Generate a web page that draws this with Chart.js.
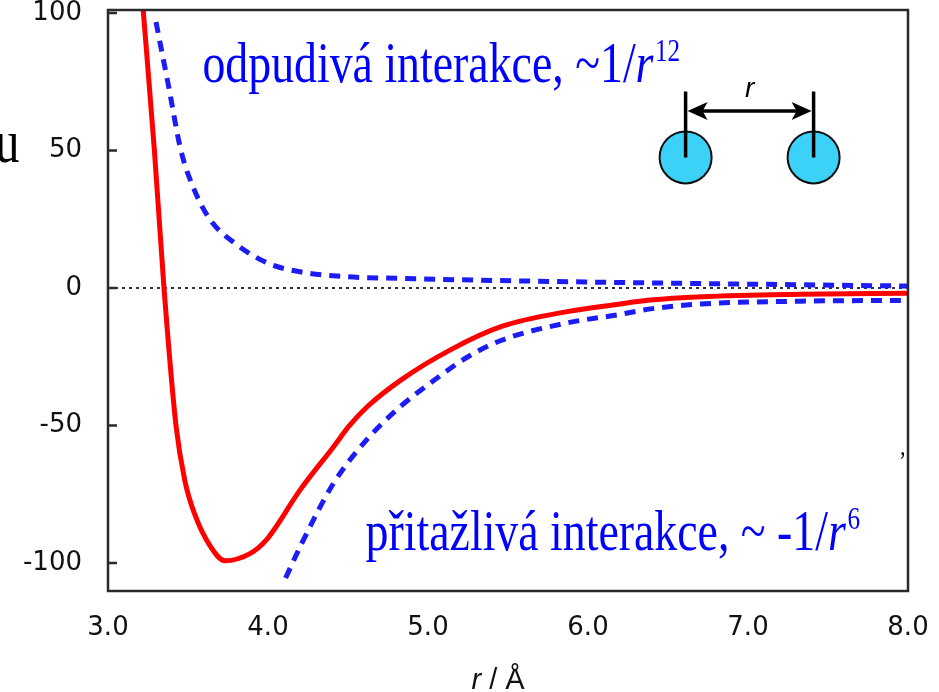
<!DOCTYPE html>
<html lang="cs">
<head>
<meta charset="UTF-8">
<title>Lennard-Jonesův potenciál</title>
<script src="https://cdn.jsdelivr.net/npm/chart.js"></script>
<style>
  body { margin: 0; background: #fff; }
  canvas { display: block; }
</style>
</head>
<body>
<canvas id="ljChart" width="939" height="692"></canvas>
<script>
// osy
const xTicks = [3, 4, 5, 6, 7, 8];
const yTicks = [-100, -50, 0, 50, 100];

// celkový potenciál (červená čára)
const rTotal = [3.22, 3.29, 3.35, 3.425, 3.48, 3.54, 3.64, 3.73, 3.89, 3.99, 4.2, 4.41, 4.51, 4.62, 4.83, 5.14, 5.46, 5.87, 6.18, 6.39, 6.71, 7.33, 8.0];
const uTotal = [101, 50, 0, -50, -70, -82, -94, -99.2, -96.5, -91.6, -73.5, -57.7, -50, -43.2, -33.5, -22.5, -14, -8.6, -6.0, -4.4, -3.2, -2.3, -1.9];

// odpudivá složka (modrá čárkovaná nahoře)
const rRep = [3.3, 3.375, 3.456, 3.54, 3.64, 3.79, 4.0, 4.2, 4.49, 4.83, 5.45, 6.08, 7.0, 8.0];
const uRep = [96.7, 74.5, 50, 35.6, 24.7, 16.4, 9, 5.9, 4.1, 3.5, 2.7, 2.1, 1.4, 0.7];

// přitažlivá složka (modrá čárkovaná dole)
const rAtt = [4.11, 4.21, 4.41, 4.62, 4.83, 5.04, 5.25, 5.46, 5.87, 6.18, 6.39, 6.71, 7.33, 8.0];
const uAtt = [-105.5, -93, -71, -55, -43, -33.5, -25, -19, -12.7, -9.8, -7.6, -5.8, -4.8, -4.5];

// nulová hladina
const rZero = [3, 8];
const uZero = [0, 0];

function pts(xs, ys) {
  return xs.map((x, i) => ({ x: x, y: ys[i] }));
}

// text s horním indexem, vodorovně stlačený jako v předloze
function serifText(ctx, parts, x, y, size, sx, color) {
  ctx.save();
  ctx.translate(x, y);
  ctx.scale(sx, 1);
  ctx.fillStyle = color;
  ctx.textAlign = 'left';
  ctx.textBaseline = 'alphabetic';
  let cx = 0;
  parts.forEach(p => {
    const fs = p.sup ? size * 0.55 : size;
    ctx.font = (p.italic ? 'italic ' : '') + fs + 'px "Liberation Serif", "DejaVu Serif", serif';
    ctx.fillText(p.t, cx + (p.sup ? 2 : 0), p.sup ? -size * 0.36 : 0);
    cx += ctx.measureText(p.t).width;
  });
  ctx.restore();
}

const decor = {
  id: 'decor',
  afterDraw(chart) {
    const ctx = chart.ctx;
    const a = chart.chartArea;
    const xs = chart.scales.x;
    const ys = chart.scales.y;
    ctx.save();

    // rámeček grafu
    ctx.strokeStyle = '#2a2a2a';
    ctx.lineWidth = 2.5;
    ctx.strokeRect(a.left, a.top, a.right - a.left, a.bottom - a.top);

    // značky na ose y dovnitř
    ctx.beginPath();
    yTicks.forEach(v => {
      const y = ys.getPixelForValue(v);
      ctx.moveTo(a.left, y);
      ctx.lineTo(a.left + 9, y);
    });
    ctx.stroke();

    // popisky křivek
    serifText(ctx, [
      { t: 'odpudivá interakce, ~1/' },
      { t: 'r', italic: true },
      { t: '12', sup: true }
    ], xs.getPixelForValue(3.59), ys.getPixelForValue(75), 58, 0.79, '#0000ff');

    serifText(ctx, [
      { t: 'přitažlivá interakce, ~ -1/' },
      { t: 'r', italic: true },
      { t: '6', sup: true }
    ], xs.getPixelForValue(4.61), ys.getPixelForValue(-95.3), 58, 0.79, '#0000ff');

    // schéma dvou atomů
    const x1 = xs.getPixelForValue(6.61);
    const x2 = xs.getPixelForValue(7.41);
    const yc = ys.getPixelForValue(47.5);
    const yTop = ys.getPixelForValue(71.5);
    const yArr = ys.getPixelForValue(64.4);
    [x1, x2].forEach(cx => {
      ctx.beginPath();
      ctx.arc(cx, yc, 26, 0, Math.PI * 2);
      ctx.fillStyle = '#3cd2f7';
      ctx.fill();
      ctx.lineWidth = 2;
      ctx.strokeStyle = '#111';
      ctx.stroke();
    });
    ctx.strokeStyle = '#000';
    ctx.lineWidth = 3.5;
    ctx.beginPath();
    ctx.moveTo(x1, yTop); ctx.lineTo(x1, yc);
    ctx.moveTo(x2, yTop); ctx.lineTo(x2, yc);
    ctx.moveTo(x1 + 12, yArr); ctx.lineTo(x2 - 12, yArr);
    ctx.stroke();
    ctx.fillStyle = '#000';
    ctx.beginPath();
    ctx.moveTo(x1 + 2, yArr); ctx.lineTo(x1 + 22, yArr - 9); ctx.lineTo(x1 + 17, yArr); ctx.lineTo(x1 + 22, yArr + 9);
    ctx.closePath();
    ctx.moveTo(x2 - 2, yArr); ctx.lineTo(x2 - 22, yArr - 9); ctx.lineTo(x2 - 17, yArr); ctx.lineTo(x2 - 22, yArr + 9);
    ctx.closePath();
    ctx.fill();
    ctx.font = 'italic 28px "Liberation Sans", Arial, sans-serif';
    ctx.textAlign = 'center';
    ctx.textBaseline = 'alphabetic';
    ctx.fillText('r', (x1 + x2) / 2, yArr - 14);

    // popis osy x: r / Å
    ctx.font = 'italic 29px "Liberation Sans", Arial, sans-serif';
    ctx.textAlign = 'left';
    const wR = ctx.measureText('r').width;
    ctx.font = '29px "Liberation Sans", Arial, sans-serif';
    const wRest = ctx.measureText(' / Å').width;
    const tx = 498 - (wR + wRest) / 2;
    ctx.font = 'italic 29px "Liberation Sans", Arial, sans-serif';
    ctx.fillStyle = '#111';
    ctx.fillText('r', tx, 689);
    ctx.font = '29px "Liberation Sans", Arial, sans-serif';
    ctx.fillText(' / Å', tx + wR, 689);

    // zbytky okolního textu v předloze
    serifText(ctx, [{ t: 'u' }], -5, 162, 62, 0.79, '#000');
    serifText(ctx, [{ t: ',' }], 900, 455, 28, 0.79, '#000');

    ctx.restore();
  }
};

const tickFont = { family: '"DejaVu Sans", "Liberation Sans", sans-serif', size: 26, lineHeight: 0.7 };

const ctx = document.getElementById('ljChart').getContext('2d');
const ljChart = new Chart(ctx, {
  type: 'line',
  data: {
    datasets: [
      {
        label: 'celkový',
        data: pts(rTotal, uTotal),
        borderColor: '#ff0000',
        borderWidth: 5,
        pointRadius: 0,
        cubicInterpolationMode: 'monotone',
        order: 1
      },
      {
        label: 'odpudivá',
        data: pts(rRep, uRep),
        borderColor: '#1c1cf5',
        borderWidth: 5,
        borderDash: [11, 8],
        pointRadius: 0,
        cubicInterpolationMode: 'monotone',
        order: 2
      },
      {
        label: 'přitažlivá',
        data: pts(rAtt, uAtt),
        borderColor: '#1c1cf5',
        borderWidth: 5,
        borderDash: [11, 8],
        pointRadius: 0,
        cubicInterpolationMode: 'monotone',
        order: 2
      },
      {
        label: 'nula',
        data: pts(rZero, uZero),
        borderColor: '#333',
        borderWidth: 2,
        borderDash: [3, 4],
        pointRadius: 0,
        order: 3
      }
    ]
  },
  options: {
    responsive: false,
    animation: false,
    layout: { padding: { left: 0, top: 10, right: 31, bottom: 0 } },
    plugins: {
      legend: { display: false },
      tooltip: { enabled: false }
    },
    scales: {
      x: {
        type: 'linear',
        min: 3,
        max: 8,
        afterBuildTicks: s => { s.ticks = xTicks.map(v => ({ value: v })); },
        afterFit: s => { s.height = 101; },
        grid: { display: false, drawTicks: true, tickLength: 28 },
        border: { display: false },
        ticks: {
          padding: 0,
          color: '#111',
          font: tickFont,
          callback: v => v.toFixed(1)
        }
      },
      y: {
        min: -110.2,
        max: 101.1,
        afterBuildTicks: s => { s.ticks = yTicks.map(v => ({ value: v })); },
        afterFit: s => { s.width = 108; },
        grid: { display: false, drawTicks: true, tickLength: 26 },
        border: { display: false },
        ticks: {
          padding: 0,
          color: '#111',
          font: tickFont
        }
      }
    }
  },
  plugins: [decor]
});
</script>
</body>
</html>
